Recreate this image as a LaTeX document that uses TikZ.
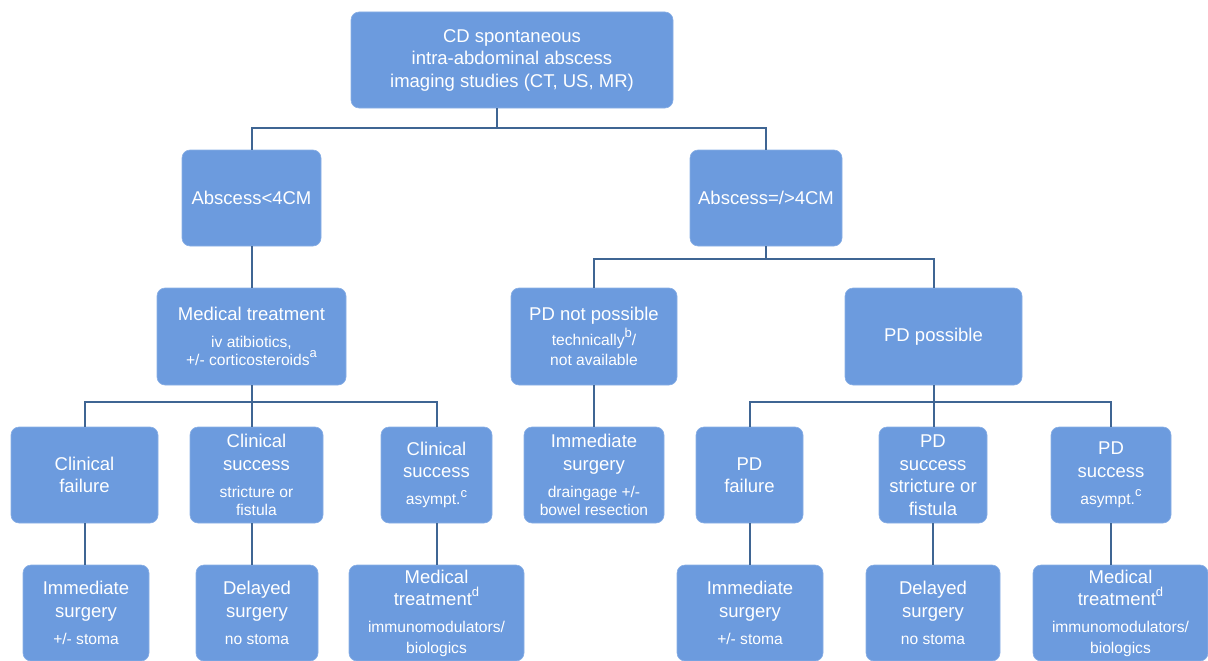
\documentclass[tikz,border=0pt]{standalone}
\usepackage{fontspec}
\setmainfont{Liberation Sans}
\definecolor{boxfill}{HTML}{6C9BDE}
\definecolor{linec}{HTML}{3F6593}
\newcommand\sml{\fontsize{15.6}{18}\selectfont}
\newcommand\supx[1]{\raisebox{0.5em}{\fontsize{13}{13}\selectfont #1}}
\begin{document}
\begin{tikzpicture}[x=1pt,y=-1pt,
  bx/.style={fill=boxfill, draw=boxfill!80!white, line width=0.6pt, rounded corners=8pt,
    text=white, align=center, inner sep=0pt, font=\fontsize{18.5}{22.5}\selectfont},
  conn/.style={draw=linec, line width=2pt}]
\useasboundingbox (0,0) rectangle (1208,661);
\clip (0,0) rectangle (1208,661);
% level 0
\node[bx, minimum width=322pt, minimum height=96pt] (top) at (512,60)
  {CD spontaneous\\intra-abdominal abscess\\imaging studies (CT, US, MR)};
% level 1
\node[bx, minimum width=139pt, minimum height=96pt] (a1) at (251.5,198) {Abscess<4CM};
\node[bx, minimum width=152pt, minimum height=96pt] (a2) at (766,198) {Abscess=/>4CM};
% level 2
\node[bx, minimum width=189pt, minimum height=97pt] (med) at (251.5,336.5)
  {Medical treatment\\[4.5pt]{\sml iv atibiotics,}\\[-4.5pt]{\sml +/- corticosteroids\supx{a}}};
\node[bx, minimum width=166pt, minimum height=97pt] (pdn) at (594,336.5)
  {PD not possible\\[2.5pt]{\sml technically\supx{b}/}\\[-2.5pt]{\sml not available}};
\node[bx, minimum width=177pt, minimum height=97pt] (pdp) at (933.5,336.5) {PD possible};
% level 3
\node[bx, minimum width=147pt, minimum height=96pt] (cf) at (84.5,475) {Clinical\\failure};
\node[bx, minimum width=133pt, minimum height=96pt] (cs) at (256.5,475)
  {Clinical\\success\\[5pt]{\sml stricture or}\\[-4.5pt]{\sml fistula}};
\node[bx, minimum width=111pt, minimum height=96pt] (ca) at (436.5,475)
  {Clinical\\success\\[4.5pt]{\sml asympt.\supx{c}}};
\node[bx, minimum width=140pt, minimum height=96pt] (is) at (594,475)
  {Immediate\\surgery\\[5pt]{\sml draingage +/-}\\[-4.5pt]{\sml bowel resection}};
\node[bx, minimum width=107pt, minimum height=96pt] (pf) at (749.5,475) {PD\\failure};
\node[bx, minimum width=108pt, minimum height=96pt] (ps) at (933,475)
  {PD\\success\\stricture or\\fistula};
\node[bx, minimum width=120pt, minimum height=96pt] (pa) at (1111,475)
  {PD\\success\\[4.5pt]{\sml asympt.\supx{c}}};
% level 4
\node[bx, minimum width=126pt, minimum height=96pt] (r1) at (86,613)
  {Immediate\\surgery\\[4.5pt]{\sml +/- stoma}};
\node[bx, minimum width=122pt, minimum height=96pt] (r2) at (257,613)
  {Delayed\\surgery\\[4.5pt]{\sml no stoma}};
\node[bx, minimum width=175pt, minimum height=96pt] (r3) at (436.5,613)
  {Medical\\treatment\supx{d}\\[4.5pt]{\sml immunomodulators/}\\[-2pt]{\sml biologics}};
\node[bx, minimum width=146pt, minimum height=96pt] (r4) at (750,613)
  {Immediate\\surgery\\[4.5pt]{\sml +/- stoma}};
\node[bx, minimum width=134pt, minimum height=96pt] (r5) at (933,613)
  {Delayed\\surgery\\[4.5pt]{\sml no stoma}};
\node[bx, minimum width=175pt, minimum height=96pt] (r6) at (1120.5,613)
  {Medical\\treatment\supx{d}\\[4.5pt]{\sml immunomodulators/}\\[-2pt]{\sml biologics}};
% connectors
\draw[conn] ([xshift=-15pt]top.south) -- ++(0,20) coordinate (j1);
\draw[conn] (j1) -| (a1.north);
\draw[conn] (j1) -| (a2.north);
\draw[conn] (a1) -- (med);
\draw[conn] (a2.south) -- ++(0,13) coordinate (j2);
\draw[conn] (j2) -| (pdn.north);
\draw[conn] (j2) -| (pdp.north);
\draw[conn] (med.south) -- ++(0,17) coordinate (j3);
\draw[conn] (j3) -| (cf.north);
\draw[conn] (j3) -- (j3 |- cs.north);
\draw[conn] (j3) -| (ca.north);
\draw[conn] (pdn) -- (is);
\draw[conn] (pdp.south) -- ++(0,17) coordinate (j4);
\draw[conn] (j4) -| (pf.north);
\draw[conn] (j4) -- (j4 |- ps.north);
\draw[conn] (j4) -| (pa.north);
\draw[conn] (cf.south) -- (cf.south |- r1.north);
\draw[conn] (j3 |- cs.south) -- (j3 |- r2.north);
\draw[conn] (ca.south) -- (ca.south |- r3.north);
\draw[conn] (pf.south) -- (pf.south |- r4.north);
\draw[conn] (ps.south) -- (ps.south |- r5.north);
\draw[conn] (pa.south) -- (pa.south |- r6.north);
\end{tikzpicture}
\end{document}
